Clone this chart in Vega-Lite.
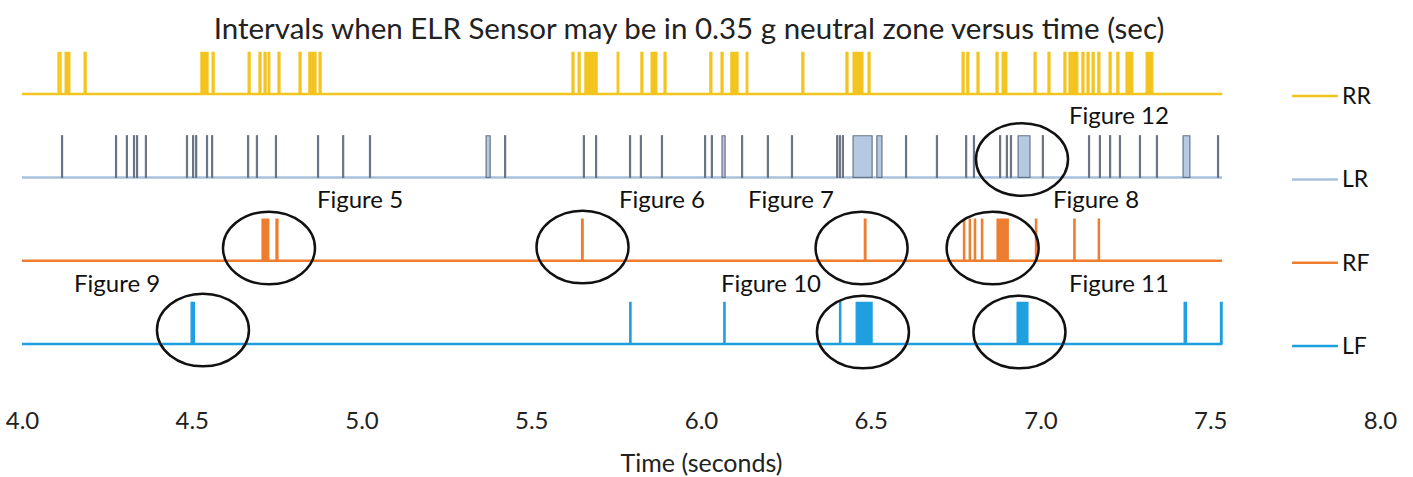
{
  "$schema": "https://vega.github.io/schema/vega-lite/v6.json",
  "width": 1358,
  "height": 355,
  "autosize": {"type": "none"},
  "padding": {"left": 22, "top": 40, "right": 33, "bottom": 82},
  "background": "white",
  "title": {
    "text": "Intervals when  ELR Sensor may be in 0.35 g neutral zone versus time (sec)",
    "font": "Lato", "fontSize": 29.5, "fontWeight": "normal", "color": "#222",
    "anchor": "middle", "dx": -12, "dy": 31, "baseline": "alphabetic", "offset": 3
  },
  "config": {
    "view": {"stroke": null},
    "axisX": {
      "domain": false, "ticks": false, "tickSize": 0, "grid": false,
      "labelFont": "Lato", "labelFontSize": 24, "labelColor": "#222", "labelPadding": 14,
      "labelFlush": false, "labelOverlap": false,
      "titleFont": "Lato", "titleFontSize": 25, "titleFontWeight": "normal", "titleColor": "#222", "titlePadding": 18
    }
  },
  "datasets": {
    "channels": [
      {"series": "RR", "low": 3, "high": 3.5, "t0": 4.0, "t1": 7.535},
      {"series": "LR", "low": 2, "high": 2.5, "t0": 4.0, "t1": 7.535},
      {"series": "RF", "low": 1, "high": 1.5, "t0": 4.0, "t1": 7.535},
      {"series": "LF", "low": 0, "high": 0.5, "t0": 4.0, "t1": 7.535}
    ],
    "pulses": [
      {"series": "RR", "start": 4.106, "end": 4.109},
      {"series": "RR", "start": 4.112, "end": 4.115},
      {"series": "RR", "start": 4.127, "end": 4.141},
      {"series": "RR", "start": 4.183, "end": 4.189},
      {"series": "RR", "start": 4.527, "end": 4.548},
      {"series": "RR", "start": 4.560, "end": 4.566},
      {"series": "RR", "start": 4.666, "end": 4.672},
      {"series": "RR", "start": 4.698, "end": 4.704},
      {"series": "RR", "start": 4.713, "end": 4.719},
      {"series": "RR", "start": 4.725, "end": 4.730},
      {"series": "RR", "start": 4.754, "end": 4.760},
      {"series": "RR", "start": 4.816, "end": 4.822},
      {"series": "RR", "start": 4.845, "end": 4.866},
      {"series": "RR", "start": 4.875, "end": 4.881},
      {"series": "RR", "start": 5.620, "end": 5.626},
      {"series": "RR", "start": 5.638, "end": 5.644},
      {"series": "RR", "start": 5.658, "end": 5.694},
      {"series": "RR", "start": 5.753, "end": 5.758},
      {"series": "RR", "start": 5.823, "end": 5.829},
      {"series": "RR", "start": 5.853, "end": 5.870},
      {"series": "RR", "start": 5.891, "end": 5.897},
      {"series": "RR", "start": 6.026, "end": 6.032},
      {"series": "RR", "start": 6.059, "end": 6.065},
      {"series": "RR", "start": 6.088, "end": 6.109},
      {"series": "RR", "start": 6.133, "end": 6.138},
      {"series": "RR", "start": 6.297, "end": 6.303},
      {"series": "RR", "start": 6.427, "end": 6.433},
      {"series": "RR", "start": 6.448, "end": 6.477},
      {"series": "RR", "start": 6.492, "end": 6.498},
      {"series": "RR", "start": 6.769, "end": 6.775},
      {"series": "RR", "start": 6.783, "end": 6.789},
      {"series": "RR", "start": 6.813, "end": 6.819},
      {"series": "RR", "start": 6.869, "end": 6.875},
      {"series": "RR", "start": 6.887, "end": 6.901},
      {"series": "RR", "start": 6.981, "end": 6.987},
      {"series": "RR", "start": 7.022, "end": 7.028},
      {"series": "RR", "start": 7.069, "end": 7.075},
      {"series": "RR", "start": 7.084, "end": 7.110},
      {"series": "RR", "start": 7.122, "end": 7.128},
      {"series": "RR", "start": 7.137, "end": 7.143},
      {"series": "RR", "start": 7.152, "end": 7.158},
      {"series": "RR", "start": 7.169, "end": 7.175},
      {"series": "RR", "start": 7.202, "end": 7.208},
      {"series": "RR", "start": 7.225, "end": 7.231},
      {"series": "RR", "start": 7.252, "end": 7.272},
      {"series": "RR", "start": 7.311, "end": 7.331},
      {"series": "LR", "start": 4.1165, "end": 4.1195},
      {"series": "LR", "start": 4.2755, "end": 4.2785},
      {"series": "LR", "start": 4.3075, "end": 4.3105},
      {"series": "LR", "start": 4.3285, "end": 4.3315},
      {"series": "LR", "start": 4.3375, "end": 4.3405},
      {"series": "LR", "start": 4.3635, "end": 4.3665},
      {"series": "LR", "start": 4.4845, "end": 4.4875},
      {"series": "LR", "start": 4.5025, "end": 4.5055},
      {"series": "LR", "start": 4.5115, "end": 4.5145},
      {"series": "LR", "start": 4.5435, "end": 4.5465},
      {"series": "LR", "start": 4.5585, "end": 4.5615},
      {"series": "LR", "start": 4.6645, "end": 4.6675},
      {"series": "LR", "start": 4.6905, "end": 4.6935},
      {"series": "LR", "start": 4.7465, "end": 4.7495},
      {"series": "LR", "start": 4.8705, "end": 4.8735},
      {"series": "LR", "start": 4.9445, "end": 4.9475},
      {"series": "LR", "start": 5.0235, "end": 5.0265},
      {"series": "LR", "start": 5.367, "end": 5.379},
      {"series": "LR", "start": 5.4215, "end": 5.4245},
      {"series": "LR", "start": 5.6535, "end": 5.6565},
      {"series": "LR", "start": 5.6895, "end": 5.6925},
      {"series": "LR", "start": 5.7895, "end": 5.7925},
      {"series": "LR", "start": 5.8215, "end": 5.8245},
      {"series": "LR", "start": 5.8835, "end": 5.8865},
      {"series": "LR", "start": 6.0105, "end": 6.0135},
      {"series": "LR", "start": 6.0305, "end": 6.0335},
      {"series": "LR", "start": 6.062, "end": 6.071},
      {"series": "LR", "start": 6.1195, "end": 6.1225},
      {"series": "LR", "start": 6.1955, "end": 6.1985},
      {"series": "LR", "start": 6.2665, "end": 6.2695},
      {"series": "LR", "start": 6.3995, "end": 6.4025},
      {"series": "LR", "start": 6.4075, "end": 6.4105},
      {"series": "LR", "start": 6.4165, "end": 6.4195},
      {"series": "LR", "start": 6.448, "end": 6.504},
      {"series": "LR", "start": 6.518, "end": 6.533},
      {"series": "LR", "start": 6.6025, "end": 6.6055},
      {"series": "LR", "start": 6.6935, "end": 6.6965},
      {"series": "LR", "start": 6.7795, "end": 6.7825},
      {"series": "LR", "start": 6.8025, "end": 6.8055},
      {"series": "LR", "start": 6.8795, "end": 6.8825},
      {"series": "LR", "start": 6.8995, "end": 6.9025},
      {"series": "LR", "start": 6.9115, "end": 6.9145},
      {"series": "LR", "start": 6.934, "end": 6.969},
      {"series": "LR", "start": 7.0055, "end": 7.0085},
      {"series": "LR", "start": 7.1415, "end": 7.1445},
      {"series": "LR", "start": 7.1735, "end": 7.1765},
      {"series": "LR", "start": 7.2035, "end": 7.2065},
      {"series": "LR", "start": 7.2325, "end": 7.2355},
      {"series": "LR", "start": 7.2915, "end": 7.2945},
      {"series": "LR", "start": 7.3415, "end": 7.3445},
      {"series": "LR", "start": 7.420, "end": 7.440},
      {"series": "LR", "start": 7.5215, "end": 7.5245},
      {"series": "RF", "start": 4.707, "end": 4.727},
      {"series": "RF", "start": 4.748, "end": 4.754},
      {"series": "RF", "start": 5.648, "end": 5.653},
      {"series": "RF", "start": 6.481, "end": 6.486},
      {"series": "RF", "start": 6.773, "end": 6.777},
      {"series": "RF", "start": 6.790, "end": 6.794},
      {"series": "RF", "start": 6.805, "end": 6.809},
      {"series": "RF", "start": 6.826, "end": 6.830},
      {"series": "RF", "start": 6.872, "end": 6.905},
      {"series": "RF", "start": 6.985, "end": 6.989},
      {"series": "RF", "start": 7.098, "end": 7.102},
      {"series": "RF", "start": 7.170, "end": 7.174},
      {"series": "LF", "start": 4.498, "end": 4.508},
      {"series": "LF", "start": 5.790, "end": 5.794},
      {"series": "LF", "start": 6.067, "end": 6.071},
      {"series": "LF", "start": 6.408, "end": 6.412},
      {"series": "LF", "start": 6.457, "end": 6.504},
      {"series": "LF", "start": 6.931, "end": 6.963},
      {"series": "LF", "start": 7.423, "end": 7.430},
      {"series": "LF", "start": 7.530, "end": 7.535}
    ],
    "figures": [
      {"figure": "Figure 5", "t": 4.7275, "y": 1.152, "lt": 4.9956, "ly": 1.717},
      {"figure": "Figure 6", "t": 5.651, "y": 1.164, "lt": 5.885, "ly": 1.717},
      {"figure": "Figure 7", "t": 6.473, "y": 1.152, "lt": 6.265, "ly": 1.717},
      {"figure": "Figure 8", "t": 6.859, "y": 1.152, "lt": 7.1635, "ly": 1.717},
      {"figure": "Figure 9", "t": 4.533, "y": 0.168, "lt": 4.280, "ly": 0.708},
      {"figure": "Figure 10", "t": 6.477, "y": 0.144, "lt": 6.206, "ly": 0.708},
      {"figure": "Figure 11", "t": 6.938, "y": 0.144, "lt": 7.231, "ly": 0.708},
      {"figure": "Figure 12", "t": 6.9455, "y": 2.215, "lt": 7.231, "ly": 2.725}
    ]
  },
  "layer": [
    {
      "data": {"name": "channels"},
      "mark": {"type": "rule", "strokeWidth": 2.5},
      "encoding": {
        "x": {"field": "t0", "type": "quantitative", "title": "Time (seconds)",
              "scale": {"domain": [4, 8], "nice": false, "zero": false},
              "axis": {"values": [4, 4.5, 5, 5.5, 6, 6.5, 7, 7.5, 8], "format": ".1f"}},
        "x2": {"field": "t1"},
        "y": {"field": "low", "type": "quantitative", "axis": null,
              "scale": {"domain": [-0.612, 3.649], "nice": false, "zero": false}},
        "color": {"field": "series", "type": "nominal", "legend": null,
                  "scale": {"domain": ["RR", "LR", "RF", "LF"], "range": ["#f3c41e", "#a9c0dd", "#ee7d2f", "#1e9fe0"]}}
      }
    },
    {
      "data": {"name": "pulses"},
      "transform": [
        {"lookup": "series", "from": {"data": {"name": "channels"}, "key": "series", "fields": ["low", "high"]}}
      ],
      "mark": {"type": "rect", "strokeWidth": 1.2},
      "encoding": {
        "x": {"field": "start", "type": "quantitative", "title": "Time (seconds)"},
        "x2": {"field": "end"},
        "y": {"field": "low", "type": "quantitative", "axis": null},
        "y2": {"field": "high"},
        "fill": {"field": "series", "type": "nominal", "legend": null,
                 "scale": {"domain": ["RR", "LR", "RF", "LF"], "range": ["#f3c41e", "#b6c9e3", "#ee7d2f", "#1e9fe0"]}},
        "stroke": {"field": "series", "type": "nominal", "legend": null,
                   "scale": {"domain": ["RR", "LR", "RF", "LF"], "range": ["#f3c41e", "#6a7586", "#ee7d2f", "#1e9fe0"]}}
      }
    },
    {
      "data": {"name": "figures"},
      "mark": {"type": "point", "shape": "M-1,0A1,0.79,0,1,1,1,0A1,0.79,0,1,1,-1,0Z",
               "size": 8464, "filled": false, "color": "#111", "strokeWidth": 2.5, "opacity": 1},
      "encoding": {
        "x": {"field": "t", "type": "quantitative", "title": "Time (seconds)"},
        "y": {"field": "y", "type": "quantitative", "axis": null}
      }
    },
    {
      "data": {"name": "figures"},
      "mark": {"type": "text", "font": "Lato", "fontSize": 24, "color": "#111", "align": "center", "baseline": "middle"},
      "encoding": {
        "x": {"field": "lt", "type": "quantitative", "title": "Time (seconds)"},
        "y": {"field": "ly", "type": "quantitative", "axis": null},
        "text": {"field": "figure"}
      }
    },
    {
      "data": {"name": "channels"},
      "mark": {"type": "rule", "strokeWidth": 2.5},
      "encoding": {
        "x": {"datum": 7.741, "type": "quantitative", "title": "Time (seconds)"},
        "x2": {"datum": 7.876},
        "y": {"field": "low", "type": "quantitative", "axis": null},
        "yOffset": {"value": 2},
        "color": {"field": "series", "type": "nominal", "legend": null}
      }
    },
    {
      "data": {"name": "channels"},
      "mark": {"type": "text", "font": "Lato", "fontSize": 23, "color": "#111", "align": "left", "baseline": "middle", "dy": 3},
      "encoding": {
        "x": {"datum": 7.888, "type": "quantitative", "title": "Time (seconds)"},
        "y": {"field": "low", "type": "quantitative", "axis": null},
        "text": {"field": "series"}
      }
    }
  ]
}
